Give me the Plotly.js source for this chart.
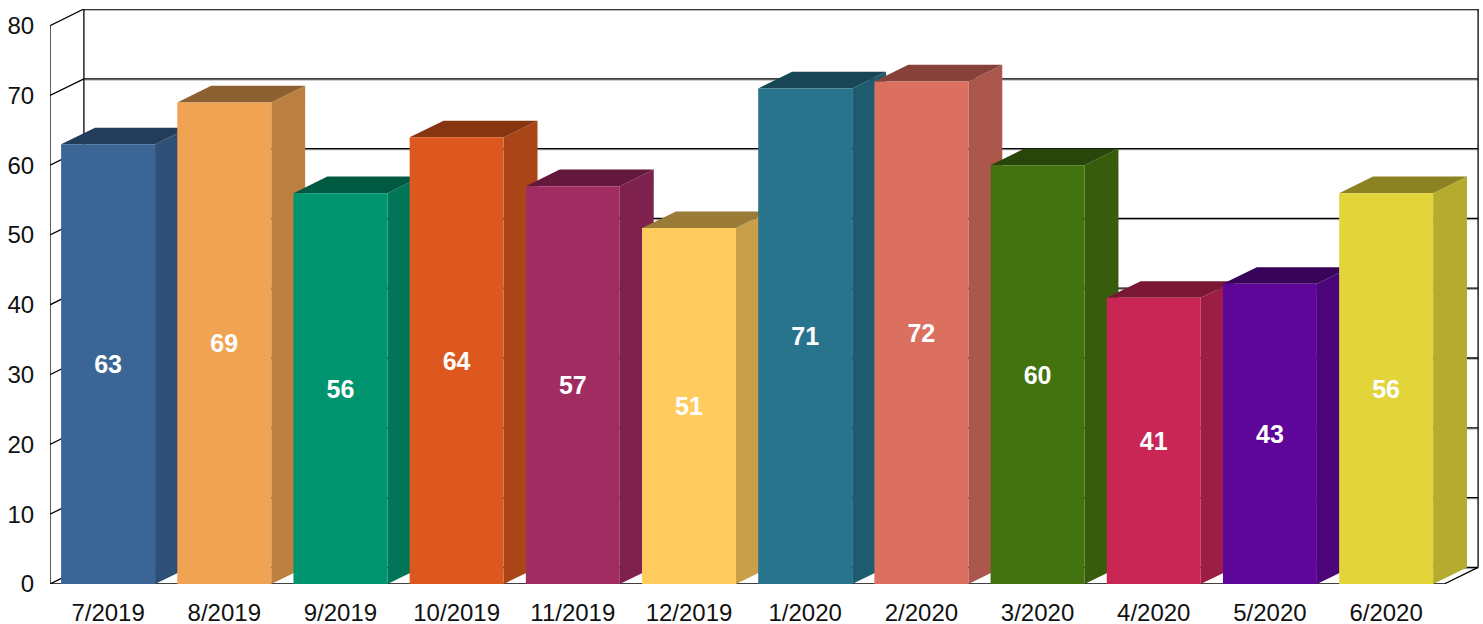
<!DOCTYPE html>
<html>
<head>
<meta charset="utf-8">
<script src="https://cdn.plot.ly/plotly-3.0.1.min.js"></script>
<style>html,body{margin:0;padding:0;background:#fff;overflow:hidden}#chart{width:1483px;height:624px}</style>
</head>
<body>
<div id="chart"></div>
<script>
const months = ['7/2019','8/2019','9/2019','10/2019','11/2019','12/2019','1/2020','2/2020','3/2020','4/2020','5/2020','6/2020'];
const counts = [63,69,56,64,57,51,71,72,60,41,43,56];
const faceColors = ['#3B6595','#F0A352','#00956F','#DD581E','#A02C62','#FFCB5E','#28748C','#DB6F60','#43730F','#C92656','#5E0699','#E2D539'];
const sideColors = ['#2E4F76','#BC8040','#007558','#AA4517','#7E224D','#C9A049','#1F5B6E','#AC574B','#365C0C','#9D1E44','#4A0578','#B5AB2E'];
const topColors  = ['#233C5A','#8C6030','#005A42','#863510','#64193C','#9A7C38','#184654','#864238','#28450A','#7A1734','#380459','#8B8222'];
const yTicks = [0,10,20,30,40,50,60,70,80];

// Geometry of the pseudo-3D box, in axis units
const pxPerCat = 116.2, pxPerUnit = 6.975;
const depthX = 33.9 / pxPerCat, depthY = 16.6 / pxPerUnit;
const barW = 94 / pxPerCat;
const plotL = 50.2, plotR = 1480.4, plotB = 584.0, plotT = 9.4;
const xRange = [-0.5, -0.5 + (plotR - plotL) / pxPerCat];
const yRange = [0, (plotB - plotT) / pxPerUnit];
const xL = -0.5, xR = xL + (months.length);
const yMax = yTicks[yTicks.length - 1];

const traces = [];
function lines(segs, color, width, dy) {
  const x = [], y = [];
  segs.forEach(s => { s.forEach(p => { x.push(p[0]); y.push(p[1] + (dy || 0)); }); x.push(null); y.push(null); });
  traces.push({type:'scatter', mode:'lines', x, y, line:{color, width}, hoverinfo:'skip', showlegend:false, cliponaxis:false});
}
const backSegs = yTicks.map(v => [[xL + depthX, v + depthY], [xR + depthX, v + depthY]]);
lines(backSegs, '#9a9a9a', 1, -0.17);
const wall = yTicks.map(v => [[xL, v], [xL + depthX, v + depthY]]);
wall.push([[xL, 0], [xL, yMax]]);
wall.push([[xL + depthX, depthY], [xL + depthX, yMax + depthY]]);
wall.push([[xR + depthX, depthY], [xR + depthX, yMax + depthY]]);
wall.push([[xL, 0], [xR, 0]]);
wall.push([[xR, 0], [xR + depthX, depthY]]);
lines(wall, '#000', 1.3);
lines(backSegs, '#000', 1.3);

// Side and top faces of every bar, left to right
counts.forEach((v, i) => {
  const a = i - barW / 2, b = i + barW / 2;
  traces.push({type:'scatter', mode:'lines', fill:'toself', fillcolor:sideColors[i], line:{width:0, color:sideColors[i]},
    x:[b, b + depthX, b + depthX, b, b], y:[0, depthY, v + depthY, v, 0], hoverinfo:'skip', showlegend:false});
  traces.push({type:'scatter', mode:'lines', fill:'toself', fillcolor:topColors[i], line:{width:0, color:topColors[i]},
    x:[a, b, b + depthX, a + depthX, a], y:[v, v, v + depthY, v + depthY, v], hoverinfo:'skip', showlegend:false});
});

// Front faces on an overlaid subplot so they sit over all side faces
traces.push({type:'bar', x:months.map((m, i) => i), y:counts, width:barW, xaxis:'x2', yaxis:'y2',
  marker:{color:faceColors, line:{width:0}}, text:counts.map(String), textposition:'inside', insidetextanchor:'middle',
  textangle:0, constraintext:'none', textfont:{family:'Liberation Sans, Arial, sans-serif', size:25, color:'#fff', weight:'bold'},
  hovertemplate:'%{customdata}: %{y}<extra></extra>', customdata:months, showlegend:false});

const font = {family:'Liberation Sans, Arial, sans-serif', size:24, color:'#111'};
const layout = {
  width:1483, height:624, showlegend:false, paper_bgcolor:'#fff', plot_bgcolor:'#fff', barmode:'overlay',
  margin:{l:plotL, r:1483 - plotR, t:plotT, b:624 - plotB, pad:0},
  font,
  xaxis:{type:'linear', range:xRange, tickmode:'array', tickvals:months.map((m, i) => i), ticktext:months,
    showgrid:false, zeroline:false, showline:false, ticks:'outside', ticklen:7, tickcolor:'rgba(0,0,0,0)', tickfont:font},
  yaxis:{type:'linear', range:yRange, tickmode:'array', tickvals:yTicks, showgrid:false, zeroline:false, showline:false,
    ticks:'outside', ticklen:10, tickcolor:'rgba(0,0,0,0)', tickfont:font},
  xaxis2:{type:'linear', range:xRange, overlaying:'x', anchor:'y2', visible:false, fixedrange:true},
  yaxis2:{type:'linear', range:yRange, overlaying:'y', anchor:'x2', visible:false, fixedrange:true}
};
Plotly.newPlot('chart', traces, layout, {displayModeBar:false, responsive:false});
</script>
</body>
</html>
